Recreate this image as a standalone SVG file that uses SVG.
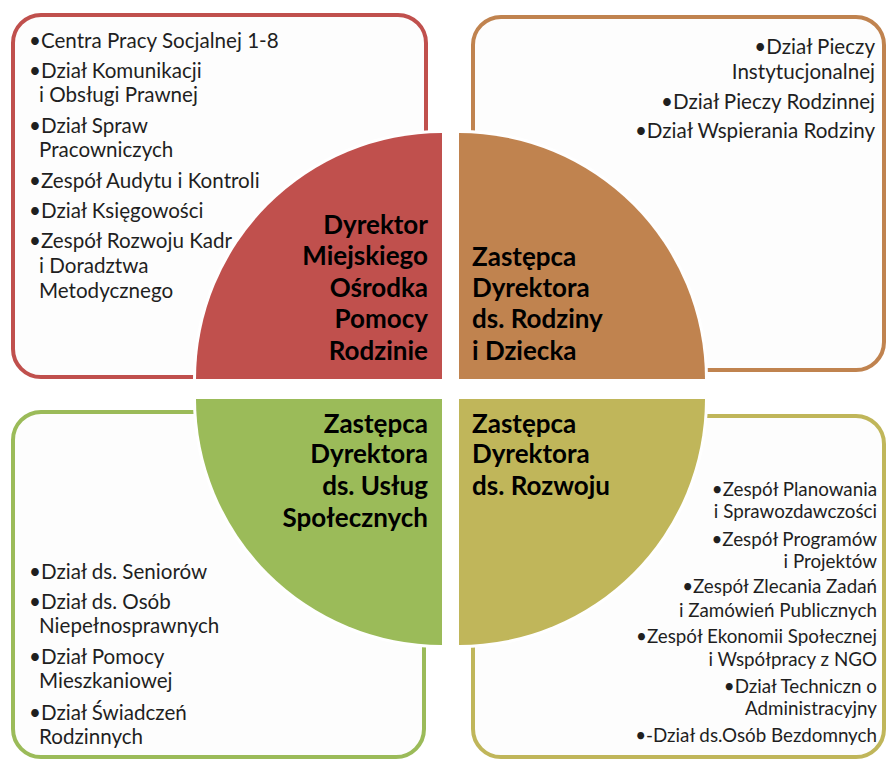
<svg xmlns="http://www.w3.org/2000/svg" width="886" height="760" viewBox="0 0 886 760">
<style>
.bg{fill:#ffffff}
.box{fill:#fdfdfd;stroke-width:4}
.sec{stroke:#ffffff;stroke-width:6;paint-order:stroke}
.t{font-family:Lato,"Liberation Sans",sans-serif;font-size:20.6px;fill:#1f1f1f}
.ts{font-size:18.8px}
.h{font-family:Lato,"Liberation Sans",sans-serif;font-weight:bold;font-size:26px;fill:#000000}
.e{text-anchor:end}
</style>
<rect class="bg" x="0" y="0" width="886" height="760"/>
<g id="box-red">
<rect class="box" x="13" y="15" width="413" height="362" rx="28" stroke="#c0504d"/>
<text class="t" x="29" y="48">•Centra Pracy Socjalnej 1-8</text>
<text class="t" x="29" y="78">•Dział Komunikacji</text>
<text class="t" x="39" y="102">i Obsługi Prawnej</text>
<text class="t" x="29" y="133">•Dział Spraw</text>
<text class="t" x="39" y="157">Pracowniczych</text>
<text class="t" x="29" y="188">•Zespół Audytu i Kontroli</text>
<text class="t" x="29" y="218">•Dział Księgowości</text>
<text class="t" x="29" y="248">•Zespół Rozwoju Kadr</text>
<text class="t" x="39" y="273">i Doradztwa</text>
<text class="t" x="39" y="298">Metodycznego</text>
</g>
<g id="box-orange">
<rect class="box" x="473" y="17" width="411" height="353" rx="28" stroke="#c0834f"/>
<text class="t e" x="875" y="54">•Dział Pieczy</text>
<text class="t e" x="875" y="79">Instytucjonalnej</text>
<text class="t e" x="875" y="109">•Dział Pieczy Rodzinnej</text>
<text class="t e" x="875" y="138">•Dział Wspierania Rodziny</text>
</g>
<g id="box-green">
<rect class="box" x="13" y="412" width="411" height="345" rx="28" stroke="#9bbb59"/>
<text class="t" x="29" y="579">•Dział ds. Seniorów</text>
<text class="t" x="29" y="609">•Dział ds. Osób</text>
<text class="t" x="39" y="633">Niepełnosprawnych</text>
<text class="t" x="29" y="664">•Dział Pomocy</text>
<text class="t" x="39" y="688">Mieszkaniowej</text>
<text class="t" x="29" y="720">•Dział Świadczeń</text>
<text class="t" x="39" y="744">Rodzinnych</text>
</g>
<g id="box-olive">
<rect class="box" x="473" y="416" width="411" height="341" rx="28" stroke="#c0b65a"/>
<text class="t ts e" x="877" y="496">•Zespół Planowania</text>
<text class="t ts e" x="877" y="518">i Sprawozdawczości</text>
<text class="t ts e" x="877" y="546">•Zespół Programów</text>
<text class="t ts e" x="877" y="568">i Projektów</text>
<text class="t ts e" x="877" y="593">•Zespół Zlecania Zadań</text>
<text class="t ts e" x="877" y="617">i Zamówień Publicznych</text>
<text class="t ts e" x="877" y="643">•Zespół Ekonomii Społecznej</text>
<text class="t ts e" x="877" y="666">i Współpracy z NGO</text>
<text class="t ts e" x="877" y="693">•Dział Techniczn o</text>
<text class="t ts e" x="877" y="715">Administracyjny</text>
<text class="t ts e" x="877" y="742">•-Dział ds.Osób Bezdomnych</text>
</g>
<g id="sector-director">
<path class="sec" d="M442,379 L196,379 A246,246 0 0 1 442,133 Z" fill="#c0504d"/>
<text class="h e" x="428" y="234">Dyrektor</text>
<text class="h e" x="428" y="265">Miejskiego</text>
<text class="h e" x="428" y="297">Ośrodka</text>
<text class="h e" x="428" y="328">Pomocy</text>
<text class="h e" x="428" y="360">Rodzinie</text>
</g>
<g id="sector-family">
<path class="sec" d="M459,379 L459,133 A246,246 0 0 1 705,379 Z" fill="#c0834f"/>
<text class="h" x="472" y="266">Zastępca</text>
<text class="h" x="472" y="297">Dyrektora</text>
<text class="h" x="472" y="328">ds. Rodziny</text>
<text class="h" x="472" y="360">i Dziecka</text>
</g>
<g id="sector-social">
<path class="sec" d="M442,399 L442,645 A246,246 0 0 1 196,399 Z" fill="#9bbb59"/>
<text class="h e" x="428" y="433">Zastępca</text>
<text class="h e" x="428" y="463">Dyrektora</text>
<text class="h e" x="428" y="495">ds. Usług</text>
<text class="h e" x="428" y="527">Społecznych</text>
</g>
<g id="sector-development">
<path class="sec" d="M459,399 L705,399 A246,246 0 0 1 459,645 Z" fill="#c0b65a"/>
<text class="h" x="472" y="433">Zastępca</text>
<text class="h" x="472" y="463">Dyrektora</text>
<text class="h" x="472" y="495">ds. Rozwoju</text>
</g>
<g id="connectors"/>
</svg>
